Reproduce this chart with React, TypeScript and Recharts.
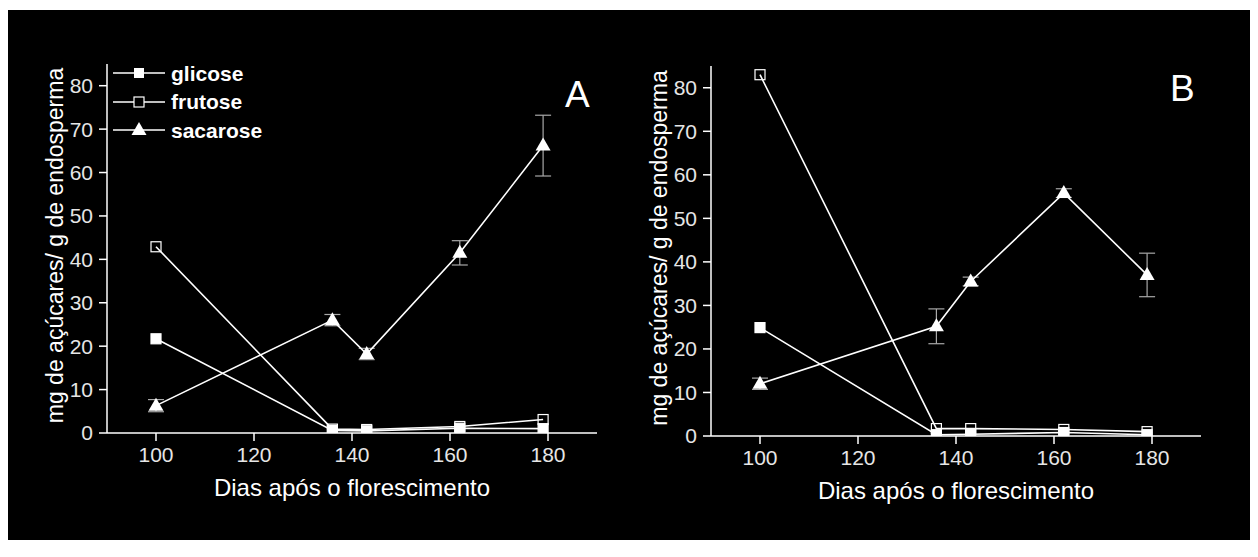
import { LineChart, Line, XAxis, YAxis, ErrorBar, Legend } from 'recharts'

// dias após o florescimento (mesmos pontos nos dois painéis)
const days = [100, 136, 143, 162, 179]

// painel A
const glicoseA = [21.7, 0.6, 0.5, 1.1, 1.0]
const frutoseA = [42.9, 0.9, 0.8, 1.5, 3.1]
const sacaroseA = [6.3, 26.0, 18.2, 41.5, 66.2]
const sacaroseErrA = [1.4, 1.3, 1.3, 2.8, 7.0]

// painel B
const glicoseB = [24.9, 0.3, 0.4, 0.8, 0.3]
const frutoseB = [83.0, 1.7, 1.7, 1.5, 1.0]
const sacaroseB = [12.0, 25.2, 35.5, 55.8, 37.0]
const sacaroseErrB = [1.3, 4.0, 1.0, 1.0, 5.0]

const xTicks = [100, 120, 140, 160, 180]
const yTicks = [0, 10, 20, 30, 40, 50, 60, 70, 80]
const legendOrder = ['glicose', 'frutose', 'sacarose']

const FONT = "'Liberation Sans', Arial, sans-serif"
const WHITE = '#ffffff'
const TICK = '#e6e6e6'

type Row = { day: number; glicose: number; frutose: number; sacarose: number; sacErr: number }

function buildRows(g: number[], f: number[], s: number[], e: number[]): Row[] {
  return days.map((day, i) => ({ day, glicose: g[i], frutose: f[i], sacarose: s[i], sacErr: e[i] }))
}

const rowsA = buildRows(glicoseA, frutoseA, sacaroseA, sacaroseErrA)
const rowsB = buildRows(glicoseB, frutoseB, sacaroseB, sacaroseErrB)

const squareDot = (filled: boolean) => (props: any) => {
  const { cx, cy, index } = props
  if (cx == null || cy == null) return <g key={`sq-${index}`} />
  return (
    <rect
      key={`sq-${index}`}
      x={cx - 5}
      y={cy - 5}
      width={10}
      height={10}
      fill={filled ? WHITE : 'none'}
      stroke={WHITE}
      strokeWidth={1.2}
    />
  )
}

const triangleDot = (props: any) => {
  const { cx, cy, index } = props
  if (cx == null || cy == null) return <g key={`tri-${index}`} />
  return (
    <polygon
      key={`tri-${index}`}
      points={`${cx},${cy - 8} ${cx - 7.5},${cy + 5} ${cx + 7.5},${cy + 5}`}
      fill={WHITE}
    />
  )
}

function LegendMarker({ kind }: { kind: string }) {
  return (
    <svg width={52} height={20} style={{ display: 'block' }}>
      <line x1={0} y1={10} x2={52} y2={10} stroke={WHITE} strokeWidth={1.5} />
      {kind === 'glicose' && <rect x={21} y={5} width={10} height={10} fill={WHITE} />}
      {kind === 'frutose' && (
        <rect x={21} y={5} width={10} height={10} fill="#000" stroke={WHITE} strokeWidth={1.2} />
      )}
      {kind === 'sacarose' && <polygon points="26,2 18.5,15 33.5,15" fill={WHITE} />}
    </svg>
  )
}

// legenda na ordem da figura original (glicose, frutose, sacarose)
const LegendContent = (props: any) => {
  const items = ((props.payload ?? []) as any[])
    .slice()
    .sort((a, b) => legendOrder.indexOf(String(a.dataKey)) - legendOrder.indexOf(String(b.dataKey)))
  return (
    <div>
      {items.map((it) => (
        <div key={String(it.dataKey)} style={{ display: 'flex', alignItems: 'center', height: 28.5 }}>
          <LegendMarker kind={String(it.dataKey)} />
          <span
            style={{
              marginLeft: 6,
              fontFamily: FONT,
              fontWeight: 700,
              fontSize: 21,
              color: WHITE,
              lineHeight: '21px',
            }}
          >
            {it.value}
          </span>
        </div>
      ))}
    </div>
  )
}

const yLabel = (props: any) => {
  const vb = props.viewBox
  const x = vb.x + 8
  const y = vb.y + vb.height / 2 - 3
  return (
    <text
      x={x}
      y={y}
      transform={`rotate(-90, ${x}, ${y})`}
      textAnchor="middle"
      dominantBaseline="central"
      fill={WHITE}
      fontSize={23}
      fontFamily={FONT}
    >
      mg de açúcares/ g de endosperma
    </text>
  )
}

interface PanelProps {
  rows: Row[]
  top: number
  bottom: number
  showLegend?: boolean
}

function Panel({ rows, top, bottom, showLegend }: PanelProps) {
  return (
    <LineChart width={620} height={530} data={rows} margin={{ top, right: 31, bottom, left: 39 }}>
      <XAxis
        dataKey="day"
        type="number"
        domain={[90, 190]}
        ticks={xTicks}
        allowDataOverflow
        stroke={WHITE}
        strokeWidth={1.5}
        tickSize={8}
        tickMargin={6}
        tick={{ fill: TICK, fontSize: 21, fontFamily: FONT }}
        height={30}
        label={{
          value: 'Dias após o florescimento',
          position: 'bottom',
          offset: 16,
          fill: WHITE,
          fontSize: 24,
          fontFamily: FONT,
        }}
      />
      <YAxis
        type="number"
        domain={[0, 85]}
        ticks={yTicks}
        allowDataOverflow
        width={60}
        stroke={WHITE}
        strokeWidth={1.5}
        tickSize={8}
        tickMargin={6}
        tick={{ fill: TICK, fontSize: 21, fontFamily: FONT }}
        label={{ content: yLabel }}
      />
      {showLegend && (
        <Legend
          layout="vertical"
          align="center"
          verticalAlign="middle"
          wrapperStyle={{ left: 105, top: 49, width: 200 }}
          content={LegendContent}
        />
      )}
      <Line
        dataKey="glicose"
        name="glicose"
        stroke={WHITE}
        strokeWidth={1.6}
        dot={squareDot(true)}
        activeDot={false}
        isAnimationActive={false}
      />
      <Line
        dataKey="frutose"
        name="frutose"
        stroke={WHITE}
        strokeWidth={1.6}
        dot={squareDot(false)}
        activeDot={false}
        isAnimationActive={false}
      />
      <Line
        dataKey="sacarose"
        name="sacarose"
        stroke={WHITE}
        strokeWidth={1.6}
        dot={triangleDot}
        activeDot={false}
        isAnimationActive={false}
      >
        <ErrorBar
          dataKey="sacErr"
          direction="y"
          width={8}
          stroke="#a8a8a8"
          strokeWidth={1.2}
          isAnimationActive={false}
        />
      </Line>
    </LineChart>
  )
}

const panelLetter: React.CSSProperties = {
  position: 'absolute',
  fontFamily: FONT,
  fontSize: 37,
  lineHeight: '37px',
  color: WHITE,
}

export default function App() {
  return (
    <div
      style={{
        position: 'relative',
        marginTop: 2,
        width: 1242,
        height: 530,
        background: '#000',
        overflow: 'hidden',
      }}
    >
      <div style={{ position: 'absolute', left: 0, top: 0 }}>
        <Panel rows={rowsA} top={54} bottom={77} showLegend />
      </div>
      <div style={{ position: 'absolute', left: 604, top: 0 }}>
        <Panel rows={rowsB} top={56} bottom={74} />
      </div>
      <div style={{ ...panelLetter, left: 557, top: 66 }}>A</div>
      <div style={{ ...panelLetter, left: 1162, top: 60 }}>B</div>
    </div>
  )
}
